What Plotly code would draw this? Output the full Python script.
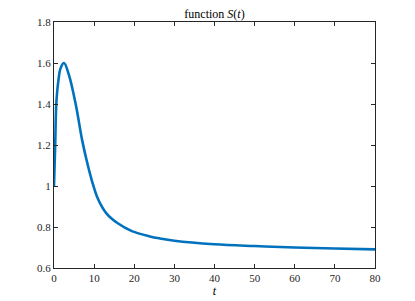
import plotly.graph_objects as go

t_vals = [0, 0.3, 0.57, 1.07, 1.65, 2.5, 3.7, 5.4, 7.0, 8.1, 9.4, 11.0, 13.0, 15.9, 19.4, 23.9, 26.4, 30, 40, 50, 60, 70, 80]
s_vals = [1.0, 1.2, 1.4, 1.51, 1.575, 1.60, 1.543, 1.40, 1.225, 1.128, 1.029, 0.935, 0.868, 0.818, 0.780, 0.754, 0.744, 0.733, 0.716, 0.707, 0.700, 0.695, 0.691]

x_ticks = [0, 10, 20, 30, 40, 50, 60, 70, 80]
y_ticks = [0.6, 0.8, 1.0, 1.2, 1.4, 1.6, 1.8]
y_tick_text = ["0.6", "0.8", "1", "1.2", "1.4", "1.6", "1.8"]

fig = go.Figure()
fig.add_trace(go.Scatter(x=t_vals, y=s_vals, mode="lines",
                         line=dict(color="#0072BD", width=2.6, shape="spline", smoothing=1.0),
                         showlegend=False, hoverinfo="skip"))

font_family = "Liberation Serif"
axis_common = dict(showline=True, linecolor="#262626", linewidth=1, mirror="allticks",
                   ticks="inside", ticklen=4, tickcolor="#262626", tickwidth=1,
                   showgrid=False, zeroline=False, automargin=False,
                   tickfont=dict(family=font_family, size=11, color="#262626"))

# page body has an 8px margin, so the figure is 8px smaller and left/top margins shifted
fig.update_layout(
    width=407, height=293,
    margin=dict(l=46, r=40, t=14, b=33, autoexpand=False),
    paper_bgcolor="white", plot_bgcolor="white",
    title=dict(text="function <i>S</i>(<i>t</i>)", x=(214.5 - 8) / 407, xref="container", xanchor="center",
               y=1 - 5.5 / 293, yref="container", yanchor="middle",
               font=dict(family=font_family, size=12, color="black")),
    xaxis=dict(range=[0, 80], tickvals=x_ticks, ticktext=[str(v) for v in x_ticks],
               title=dict(text="<i>t</i>", standoff=1, font=dict(family=font_family, size=12, color="black")),
               **axis_common),
    yaxis=dict(range=[0.6, 1.8], tickvals=y_ticks, ticktext=y_tick_text, **axis_common),
)

fig.write_html("out.html")
